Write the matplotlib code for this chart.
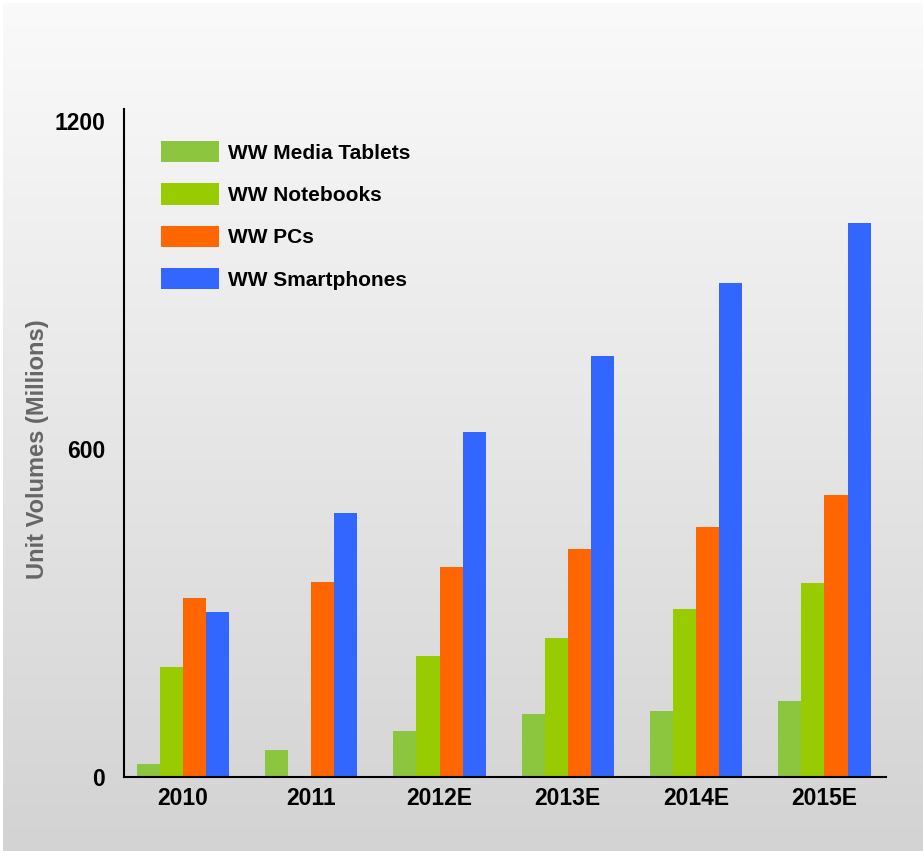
import numpy as np
import matplotlib.pyplot as plt
from matplotlib.colors import LinearSegmentedColormap

plt.rcParams['font.family'] = ['Liberation Sans', 'DejaVu Sans']

years = ['2010', '2011', '2012E', '2013E', '2014E', '2015E']
series = ['WW Media Tablets', 'WW Notebooks', 'WW PCs', 'WW Smartphones']
tablets = [24, 49, 84, 115, 121, 139]
notebooks = [201, 0, 221, 254, 307, 355]
pcs = [327, 357, 384, 417, 457, 516]
smartphones = [302, 483, 631, 770, 904, 1013]
colors = ['#8cc63f', '#99cc00', '#ff6600', '#3366ff']
yticks = [0, 600, 1200]

W, H = 923, 851
fig = plt.figure(figsize=(W / 100, H / 100), dpi=100)

# background panel with vertical gradient
bg = fig.add_axes([3 / W, 0, 1 - 3 / W, 1 - 3 / H], zorder=-10)
cmap = LinearSegmentedColormap.from_list('bg', ['#fafafa', '#d3d3d3'])
bg.imshow(np.linspace(0, 1, 256).reshape(-1, 1), aspect='auto', cmap=cmap,
          extent=[0, 1, 0, 1])
bg.axis('off')

ax = fig.add_axes([124 / W, (H - 777) / H, (886 - 124) / W, (777 - 109) / H])
ax.patch.set_alpha(0)

x = np.arange(len(years))
bw = 0.18
data = [tablets, notebooks, pcs, smartphones]
for i, (vals, lab, c) in enumerate(zip(data, series, colors)):
    ax.bar(x + (i - 1.5) * bw, vals, width=bw, color=c, label=lab, linewidth=0)

ax.set_xlim(-0.46, 5.48)
ax.set_ylim(0, 1222)
ax.set_yticks(yticks)
ax.set_yticklabels([str(t) for t in yticks], fontsize=16.5, fontweight='bold')
ax.set_xticks(x)
ax.set_xticklabels(years, fontsize=16.5, fontweight='bold')
ax.tick_params(axis='y', length=0, pad=13.5)
ax.tick_params(axis='x', length=0, pad=7)
for s in ['top', 'right']:
    ax.spines[s].set_visible(False)
for s in ['left', 'bottom']:
    ax.spines[s].set_linewidth(1.5)
ax.set_ylabel('Unit Volumes (Millions)', fontsize=17, fontweight='bold',
              color='#666666')
ax.yaxis.set_label_coords(-0.099, 0.49)

fs = 15 * 100 / 72
leg = ax.legend(loc='upper left', bbox_to_anchor=(161 / W, 1 - 141 / H),
                bbox_transform=fig.transFigure, frameon=False, borderpad=0,
                borderaxespad=0, handlelength=58 / fs, handleheight=25 / fs,
                handletextpad=9 / fs, labelspacing=(41 - 25) / fs + 0.22,
                prop={'size': 15, 'weight': 'bold'})

fig.savefig('out.png', dpi=100)
